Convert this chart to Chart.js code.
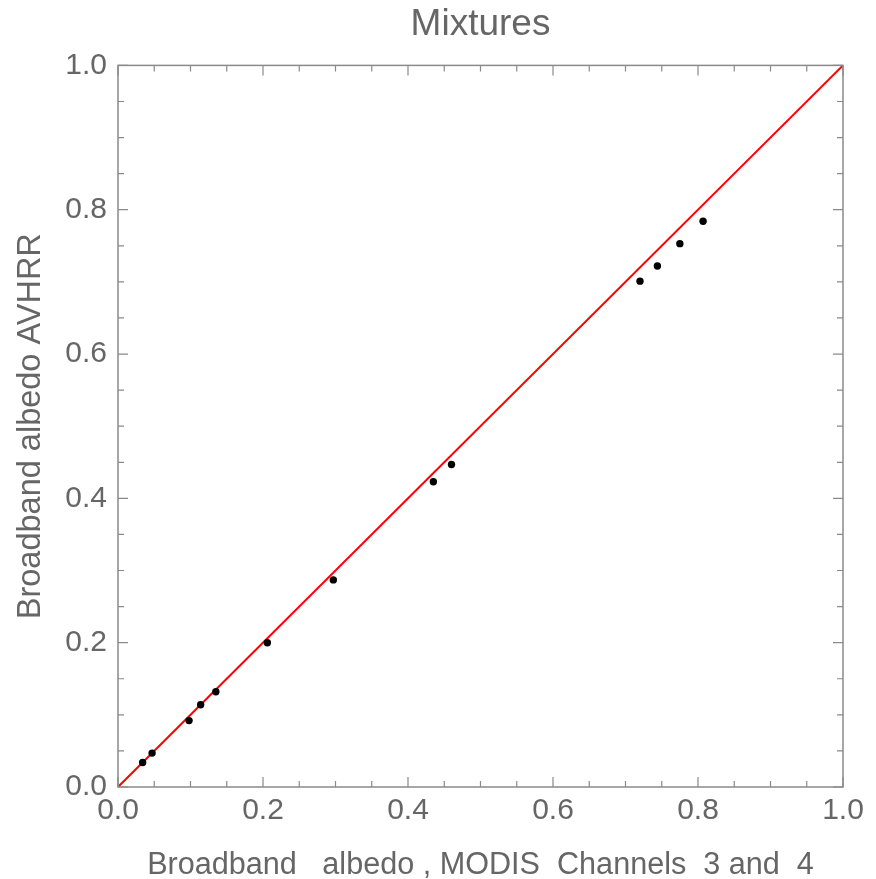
<!DOCTYPE html>
<html>
<head>
<meta charset="utf-8">
<script src="https://cdn.jsdelivr.net/npm/chart.js@4"></script>
<style>
  html, body { margin: 0; padding: 0; background: #fff; }
</style>
</head>
<body>
<canvas id="myChart" width="876" height="879"></canvas>
<script>
// data
var modisAlbedo = [0.034, 0.047, 0.098, 0.114, 0.135, 0.206, 0.297, 0.435, 0.460, 0.720, 0.744, 0.775, 0.807];
var avhrrAlbedo = [0.034, 0.047, 0.092, 0.114, 0.132, 0.200, 0.287, 0.423, 0.447, 0.701, 0.722, 0.753, 0.784];
var lineX = [0, 1];
var lineY = [0, 1];

var majorTicks = [0, 0.2, 0.4, 0.6, 0.8, 1.0];
var minorTicks = [0.05, 0.1, 0.15, 0.25, 0.3, 0.35, 0.45, 0.5, 0.55, 0.65, 0.7, 0.75, 0.85, 0.9, 0.95];

var textColor = "#666666";
var frameColor = "#8a8a8a";
var fontFamily = "'Liberation Sans', Arial, sans-serif";

var points = modisAlbedo.map(function (x, i) { return { x: x, y: avhrrAlbedo[i] }; });
var diag = lineX.map(function (x, i) { return { x: x, y: lineY[i] }; });

// box frame with inward ticks on all four sides
var frameTicks = {
  id: "frameTicks",
  afterDatasetsDraw: function (chart) {
    var ctx = chart.ctx;
    var a = chart.chartArea;
    var xs = chart.scales.x, ys = chart.scales.y;
    ctx.save();
    ctx.strokeStyle = frameColor;
    ctx.lineWidth = 1.5;
    ctx.strokeRect(a.left, a.top, a.right - a.left, a.bottom - a.top);
    ctx.lineWidth = 1.2;
    function tick(v, len) {
      var px = xs.getPixelForValue(v);
      var py = ys.getPixelForValue(v);
      ctx.beginPath();
      ctx.moveTo(px, a.bottom); ctx.lineTo(px, a.bottom - len);
      ctx.moveTo(px, a.top); ctx.lineTo(px, a.top + len);
      ctx.moveTo(a.left, py); ctx.lineTo(a.left + len, py);
      ctx.moveTo(a.right, py); ctx.lineTo(a.right - len, py);
      ctx.stroke();
    }
    majorTicks.forEach(function (v) { tick(v, 10); });
    minorTicks.forEach(function (v) { tick(v, 6); });
    ctx.restore();
  }
};

var ctx = document.getElementById("myChart").getContext("2d");
var myChart = new Chart(ctx, {
  type: "scatter",
  data: {
    datasets: [
      {
        type: "scatter",
        label: "Mixtures",
        data: points,
        backgroundColor: "#000000",
        borderWidth: 0,
        pointRadius: 3.7,
        order: 1,
      },
      {
        type: "line",
        label: "1:1",
        data: diag,
        borderColor: "#ff0000",
        borderWidth: 2,
        pointRadius: 0,
        fill: false,
        order: 2,
      },
    ],
  },
  options: {
    responsive: false,
    animation: false,
    devicePixelRatio: 1,
    layout: { padding: { left: 0, right: 33, top: 0, bottom: 0 } },
    plugins: {
      legend: { display: false },
      tooltip: { enabled: false },
      title: {
        display: true,
        fullSize: false,
        text: "Mixtures",
        color: textColor,
        font: { family: fontFamily, size: 37, weight: "normal", lineHeight: 1.2 },
        padding: { top: 3, bottom: 18 },
      },
    },
    scales: {
      x: {
        type: "linear",
        min: 0,
        max: 1,
        grid: { display: false, drawTicks: false },
        border: { display: false },
        ticks: {
          stepSize: 0.2,
          padding: 6,
          color: textColor,
          font: { family: fontFamily, size: 30, lineHeight: 1.2 },
          maxRotation: 0,
          callback: function (v) { return v.toFixed(1); },
        },
        title: {
          display: true,
          text: "Broadband   albedo , MODIS  Channels  3 and  4",
          color: textColor,
          font: { family: fontFamily, size: 30.6, lineHeight: 0.85 },
          padding: { top: 0, bottom: 0 },
        },
        afterFit: function (scale) { scale.height = 92; },
      },
      y: {
        type: "linear",
        min: 0,
        max: 1,
        grid: { display: false, drawTicks: false },
        border: { display: false },
        ticks: {
          stepSize: 0.2,
          padding: 11,
          color: textColor,
          font: { family: fontFamily, size: 30, lineHeight: 1.2 },
          callback: function (v) { return v.toFixed(1); },
        },
        title: {
          display: true,
          text: "Broadband albedo AVHRR",
          color: textColor,
          font: { family: fontFamily, size: 32.5, lineHeight: 1 },
          padding: { top: 15, bottom: 0 },
        },
        afterFit: function (scale) { scale.width = 118; },
      },
    },
  },
  plugins: [frameTicks],
});
</script>
</body>
</html>
